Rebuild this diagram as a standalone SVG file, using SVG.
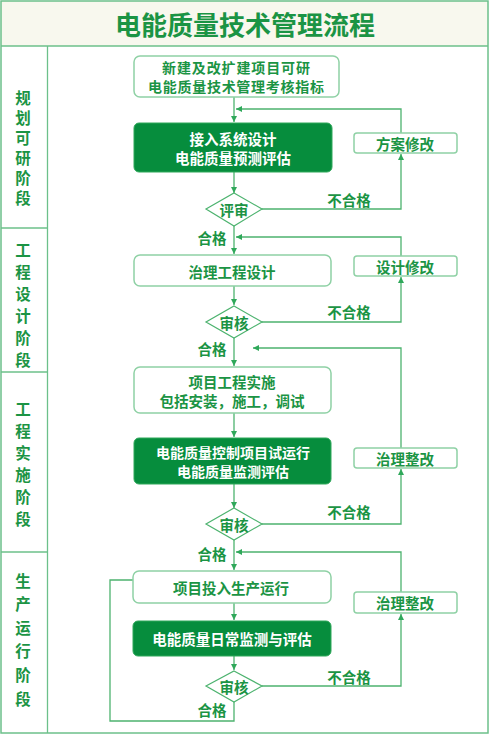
<svg xmlns="http://www.w3.org/2000/svg" width="490" height="735" viewBox="0 0 490 735">
<style>
text{font-family:"Noto Sans CJK SC","Noto Sans",sans-serif;font-weight:bold;text-anchor:middle;dominant-baseline:central}
.t{fill:#1b9444;font-size:14.5px}
.w{fill:#ffffff;font-size:14.5px}
.s{font-size:14px}
.side{fill:#1b9444;font-size:15.5px}
.box{fill:#ffffff;stroke:#8fd1a5;stroke-width:1.5}
.dark{fill:#068d3d;stroke:#2fa85a;stroke-width:1}
.dia{fill:#ffffff;stroke:#4db36f;stroke-width:1.2}
.c{fill:none;stroke:#4db36f;stroke-width:1.3}
</style>
<defs>
<marker id="ah" markerWidth="7" markerHeight="7" refX="6" refY="3.5" orient="auto" markerUnits="userSpaceOnUse">
<path d="M0,0.5 L6,3.5 L0,6.5 z" fill="#2fa85a"/>
</marker>
</defs>
<rect x="0" y="0" width="490" height="735" fill="#ffffff"/>
<g id="frame">
<rect x="1" y="1" width="487" height="45" fill="#f8f8ee"/>
<rect x="1" y="1" width="487" height="732" fill="none" stroke="#6cc08a" stroke-width="1.5"/>
<line x1="1" y1="46" x2="488" y2="46" stroke="#6cc08a" stroke-width="1.5"/>
<line x1="47.5" y1="46" x2="47.5" y2="733" stroke="#6cc08a" stroke-width="1.3"/>
<line x1="1" y1="228" x2="47.5" y2="228" stroke="#6cc08a" stroke-width="1.3"/>
<line x1="1" y1="372" x2="47.5" y2="372" stroke="#6cc08a" stroke-width="1.3"/>
<line x1="1" y1="552" x2="47.5" y2="552" stroke="#6cc08a" stroke-width="1.3"/>
</g>
<g id="title"><text x="245" y="23" style="fill:#1b9444;font-size:26px">电能质量技术管理流程</text></g>
<g id="stage1">
<text class="side" x="23" y="97">规</text><text class="side" x="23" y="117">划</text><text class="side" x="23" y="137">可</text><text class="side" x="23" y="157">研</text><text class="side" x="23" y="177">阶</text><text class="side" x="23" y="197">段</text>
</g>
<g id="stage2">
<text class="side" x="23" y="249">工</text><text class="side" x="23" y="271">程</text><text class="side" x="23" y="293">设</text><text class="side" x="23" y="315">计</text><text class="side" x="23" y="337">阶</text><text class="side" x="23" y="359">段</text>
</g>
<g id="stage3">
<text class="side" x="23" y="408">工</text><text class="side" x="23" y="430">程</text><text class="side" x="23" y="452">实</text><text class="side" x="23" y="474">施</text><text class="side" x="23" y="496">阶</text><text class="side" x="23" y="518">段</text>
</g>
<g id="stage4">
<text class="side" x="23" y="580">生</text><text class="side" x="23" y="603">产</text><text class="side" x="23" y="627">运</text><text class="side" x="23" y="650">行</text><text class="side" x="23" y="674">阶</text><text class="side" x="23" y="698">段</text>
</g>
<g id="connectors">
<path class="c" d="M234,97 V122" marker-end="url(#ah)"/>
<path class="c" d="M234,172 V193" marker-end="url(#ah)"/>
<path class="c" d="M262,209 H401 V154" marker-end="url(#ah)"/>
<path class="c" d="M401,133 V109 H236" marker-end="url(#ah)"/>
<path class="c" d="M234,226 V254" marker-end="url(#ah)"/>
<path class="c" d="M401,256 V237 H236" marker-end="url(#ah)"/>
<path class="c" d="M234,286 V305" marker-end="url(#ah)"/>
<path class="c" d="M262,322 H401 V277" marker-end="url(#ah)"/>
<path class="c" d="M234,338 V366" marker-end="url(#ah)"/>
<path class="c" d="M401,448 V348 H253" marker-end="url(#ah)"/>
<path class="c" d="M234,413 V437" marker-end="url(#ah)"/>
<path class="c" d="M234,484 V508" marker-end="url(#ah)"/>
<path class="c" d="M262,524 H401 V469" marker-end="url(#ah)"/>
<path class="c" d="M234,540 V570" marker-end="url(#ah)"/>
<path class="c" d="M401,592 V552 H236" marker-end="url(#ah)"/>
<path class="c" d="M234,603 V620" marker-end="url(#ah)"/>
<path class="c" d="M234,656 V670" marker-end="url(#ah)"/>
<path class="c" d="M262,686 H401 V614" marker-end="url(#ah)"/>
<path class="c" d="M234,702 V721 H110 V580 H133"/>
</g>
<g id="n1"><rect class="box" x="134" y="56" width="205" height="41" rx="6"/><text class="t s" x="236" y="67" textLength="148">新建及改扩建项目可研</text><text class="t s" x="236" y="86" textLength="176">电能质量技术管理考核指标</text></g>
<g id="n2"><rect class="dark" x="134" y="123" width="198" height="49" rx="5"/><text class="w" x="233" y="138">接入系统设计</text><text class="w" x="233" y="157">电能质量预测评估</text></g>
<g id="d1"><polygon class="dia" points="234,193 262,209 234,226 206,209"/><text class="t" x="234" y="209">评审</text></g>
<g id="r1"><rect class="box" x="354" y="133" width="103" height="20" rx="3"/><text class="t" x="405" y="143">方案修改</text></g>
<g id="n3"><rect class="box" x="134" y="255" width="197" height="31" rx="6"/><text class="t" x="232" y="271">治理工程设计</text></g>
<g id="d2"><polygon class="dia" points="234,306 262,322 234,338 206,322"/><text class="t" x="234" y="322">审核</text></g>
<g id="r2"><rect class="box" x="354" y="256" width="103" height="20" rx="3"/><text class="t" x="405" y="266">设计修改</text></g>
<g id="n4"><rect class="box" x="134" y="367" width="197" height="46" rx="6"/><text class="t" x="232" y="381">项目工程实施</text><text class="t" x="232" y="400">包括安装，施工，调试</text></g>
<g id="n5"><rect class="dark" x="134" y="438" width="197" height="46" rx="5"/><text class="w s" x="233" y="452">电能质量控制项目试运行</text><text class="w s" x="233" y="471">电能质量监测评估</text></g>
<g id="r3"><rect class="box" x="354" y="448" width="103" height="20" rx="3"/><text class="t" x="405" y="458">治理整改</text></g>
<g id="d3"><polygon class="dia" points="234,508 262,524 234,540 206,524"/><text class="t" x="234" y="524">审核</text></g>
<g id="n6"><rect class="box" x="133" y="571" width="198" height="32" rx="6"/><text class="t" x="231" y="587">项目投入生产运行</text></g>
<g id="n7"><rect class="dark" x="133" y="621" width="198" height="35" rx="5"/><text class="w" x="232" y="638">电能质量日常监测与评估</text></g>
<g id="r4"><rect class="box" x="354" y="592" width="103" height="21" rx="3"/><text class="t" x="405" y="602">治理整改</text></g>
<g id="d4"><polygon class="dia" points="234,671 262,686 234,702 206,686"/><text class="t" x="234" y="686">审核</text></g>
<g id="labels">
<text class="t" x="349" y="199">不合格</text>
<text class="t" x="212" y="237">合格</text>
<text class="t" x="349" y="311">不合格</text>
<text class="t" x="212" y="348">合格</text>
<text class="t" x="349" y="511">不合格</text>
<text class="t" x="212" y="553">合格</text>
<text class="t" x="349" y="676">不合格</text>
<text class="t" x="212" y="709">合格</text>
</g>
</svg>
